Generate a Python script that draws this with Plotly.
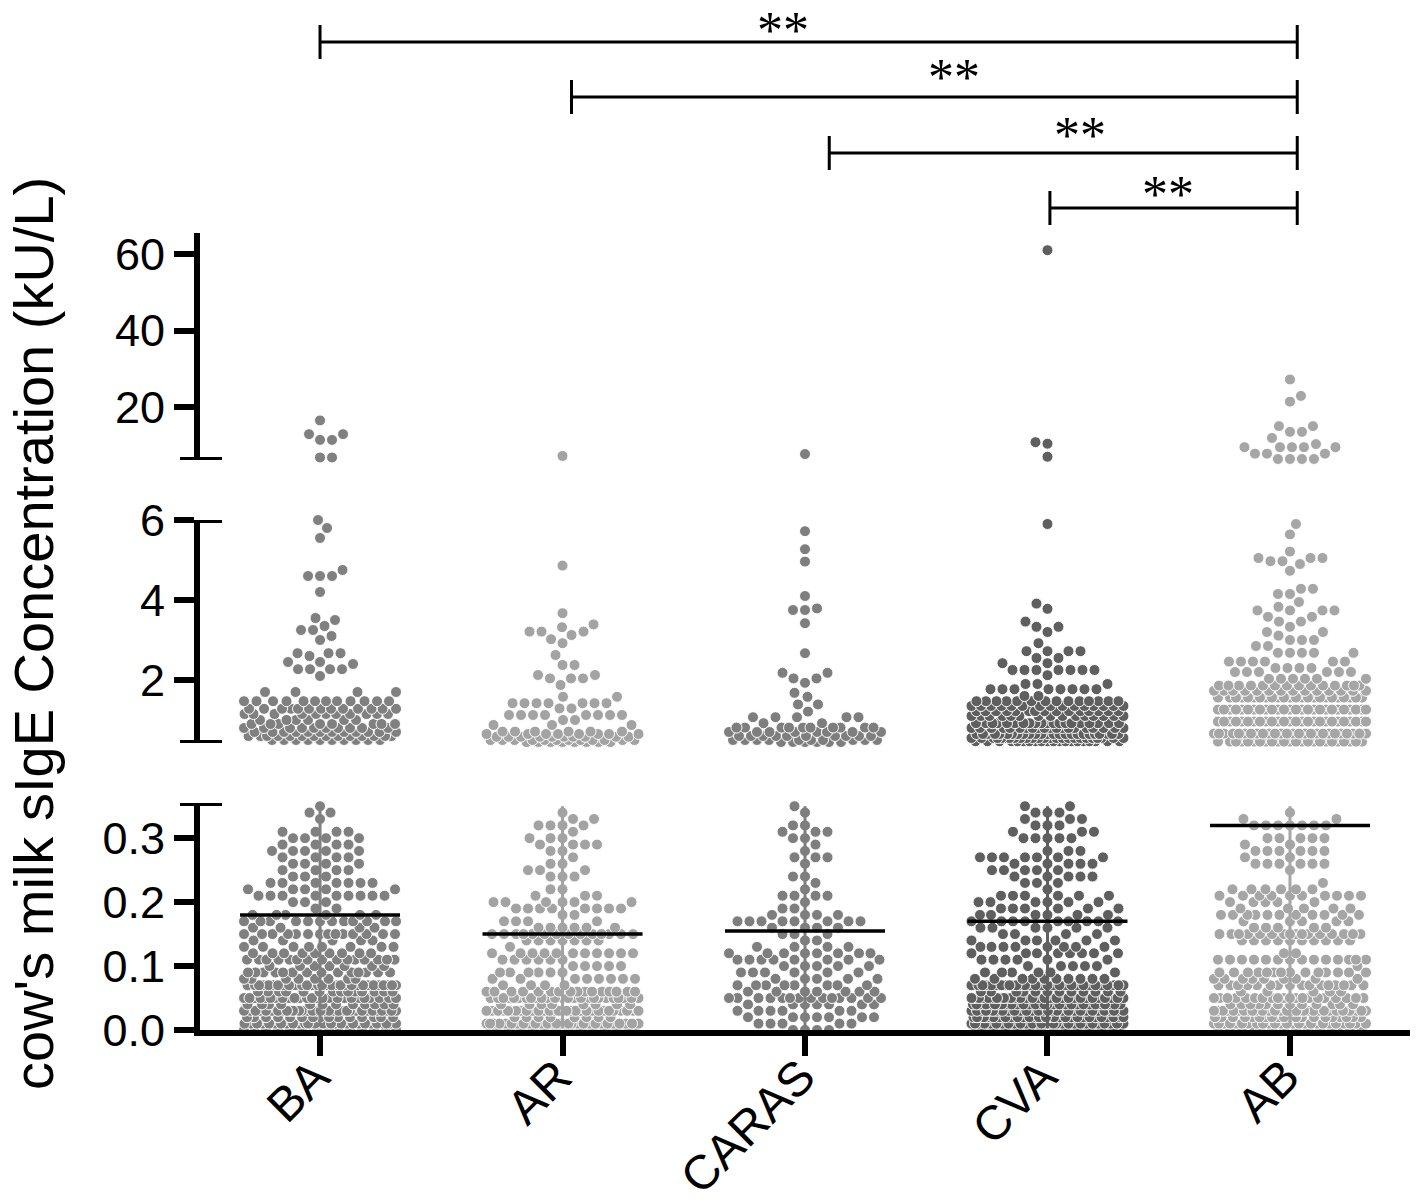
import numpy as np
import plotly.graph_objects as go

# ---------------- data ----------------
GROUPS = ["BA", "AR", "CARAS", "CVA", "AB"]
COLORS = ["#808080", "#a3a3a3", "#7e7e7e", "#5f5f5f", "#a6a6a6"]
MEDIANS = [0.18, 0.15, 0.155, 0.17, 0.32]

# lower panel: number of dots at each 0.01 level (0.00 ... 0.35)
LOW_LEVELS = [0.00, 0.01, 0.02, 0.03, 0.04, 0.05, 0.06, 0.07, 0.08, 0.09,
              0.10, 0.11, 0.12, 0.13, 0.14, 0.15, 0.16, 0.17, 0.18, 0.19,
              0.20, 0.21, 0.22, 0.23, 0.24, 0.25, 0.26, 0.27, 0.28, 0.29,
              0.30, 0.31, 0.32, 0.33, 0.34, 0.35]
BA_LOW = [30, 30, 15, 34, 12, 25, 14, 30, 8, 14, 7, 15, 9, 8, 5, 14, 4, 12, 6, 2,
          3, 9, 5, 7, 3, 4, 4, 4, 5, 4, 4, 4, 0, 1, 2, 1]
AR_LOW = [25, 30, 8, 30, 8, 25, 16, 4, 8, 6, 5, 6, 11, 1, 7, 14, 6, 4, 2, 8,
          6, 3, 2, 0, 3, 3, 2, 1, 2, 4, 3, 1, 4, 2, 1, 0]
CARAS_LOW = [4, 5, 7, 6, 7, 14, 7, 8, 5, 6, 5, 8, 8, 4, 2, 3, 4, 8, 4, 2,
             1, 4, 1, 1, 2, 0, 1, 3, 1, 1, 2, 3, 2, 0, 1, 1]
CVA_LOW = [25, 30, 30, 30, 30, 30, 12, 30, 10, 6, 5, 6, 8, 8, 6, 4, 6, 9, 6, 6,
           6, 6, 1, 3, 5, 5, 5, 7, 3, 0, 5, 3, 3, 3, 3, 2]
AB_LOW = [20, 25, 20, 30, 12, 20, 5, 16, 9, 14, 1, 14, 2, 0, 10, 16, 5, 5, 11, 5,
          5, 10, 6, 1, 0, 1, 6, 2, 6, 2, 5, 0, 7, 2, 1, 0]

# middle panel (0.4 - 6 kU/L): values and how many dots sit at each
BA_MID_V = [0.5, 0.6, 0.7, 0.8, 0.9, 1.0, 1.15, 1.28, 1.47, 1.7, 2.1, 2.27, 2.4, 2.45,
            2.6, 2.67, 3.0, 3.1, 3.25, 3.35, 3.5, 3.55, 4.2, 4.6, 4.75, 5.55, 5.8, 6.0]
BA_MID_N = [10, 14, 12, 10, 8, 6, 11, 13, 12, 4, 1, 4, 1, 2,
            1, 3, 1, 1, 2, 1, 1, 1, 1, 3, 1, 1, 1, 1]
AR_MID_V = [0.45, 0.5, 0.58, 0.65, 0.71, 0.875, 1.0, 1.125, 1.29, 1.42, 1.58, 1.875,
            2.04, 2.125, 2.375, 2.625, 2.92, 3.02, 3.125, 3.21, 3.32, 3.39, 3.67, 4.86]
AR_MID_N = [8, 12, 10, 8, 6, 3, 2, 8, 2, 7, 2, 1,
            3, 2, 2, 1, 1, 1, 1, 3, 1, 1, 1, 1]
CARAS_MID_V = [0.45, 0.5, 0.6, 0.7, 0.81, 0.92, 1.07, 1.21, 1.39, 1.58, 1.68, 1.93,
               2.04, 2.18, 2.67, 3.42, 3.75, 3.79, 4.1, 4.96, 5.27, 5.72]
CARAS_MID_N = [6, 10, 10, 8, 10, 2, 5, 1, 2, 1, 1, 1,
               2, 2, 1, 1, 2, 1, 1, 1, 1, 1]
CVA_MID_V = [0.47, 0.55, 0.65, 0.8, 0.92, 1.1, 1.22, 1.35, 1.47, 1.6, 1.77, 1.9,
             2.12, 2.25, 2.42, 2.55, 2.72, 2.92, 3.2, 3.33, 3.46, 3.78, 3.91, 5.9]
CVA_MID_N = [20, 25, 25, 20, 20, 15, 15, 15, 14, 2, 8, 3,
             1, 7, 2, 2, 4, 1, 1, 2, 1, 1, 1, 1]
AB_MID_V = [0.46, 0.66, 0.96, 1.26, 1.56, 1.73, 1.86, 2.03, 2.2, 2.3, 2.46, 2.68,
            2.85, 3.0, 3.11, 3.2, 3.33, 3.46, 3.58, 3.74, 3.83, 3.95, 4.15, 4.28,
            4.73, 4.9, 4.97, 5.05, 5.21, 5.64, 5.9]
AB_MID_N = [24, 26, 26, 26, 24, 14, 14, 6, 6, 4, 6, 5,
            2, 3, 1, 2, 1, 2, 2, 4, 1, 1, 2, 2,
            1, 1, 2, 3, 1, 1, 1]

# upper panel (6 - 65 kU/L)
BA_TOP_V = [6.8, 11.4, 12.9, 16.5]
BA_TOP_N = [2, 2, 2, 1]
AR_TOP_V = [7.2]
AR_TOP_N = [1]
CARAS_TOP_V = [7.7]
CARAS_TOP_N = [1]
CVA_TOP_V = [7.0, 10.4, 10.8, 61.0]
CVA_TOP_N = [1, 1, 1, 1]
AB_TOP_V = [6.4, 7.8, 9.5, 10.3, 11.9, 13.5, 15.0, 21.4, 22.9, 27.2]
AB_TOP_N = [4, 3, 5, 1, 1, 2, 2, 1, 1, 1]

LOW_COUNTS = [BA_LOW, AR_LOW, CARAS_LOW, CVA_LOW, AB_LOW]
MID_VALS = [BA_MID_V, AR_MID_V, CARAS_MID_V, CVA_MID_V, AB_MID_V]
MID_COUNTS = [BA_MID_N, AR_MID_N, CARAS_MID_N, CVA_MID_N, AB_MID_N]
TOP_VALS = [BA_TOP_V, AR_TOP_V, CARAS_TOP_V, CVA_TOP_V, AB_TOP_V]
TOP_COUNTS = [BA_TOP_N, AR_TOP_N, CARAS_TOP_N, CVA_TOP_N, AB_TOP_N]

Y_TICKS_LOW = [0.0, 0.1, 0.2, 0.3]
Y_TICKS_MID = [2, 4, 6]
Y_TICKS_TOP = [20, 40, 60]

# significance brackets: (left group position, right group position, label)
BRACKETS = [(0.0, 4.03, "**"), (1.037, 4.03, "**"), (2.10, 4.03, "**"), (3.01, 4.03, "**")]

# ---------------- geometry ----------------
W, H = 1418, 1203
ML, MR, MT, MB = 200, 8, 10, 173
PW = W - ML - MR
PH = H - MT - MB
XR = [-0.495, 4.495]
XPPU = PW / (XR[1] - XR[0])


def py2paper(py):
    return (H - MB - py) / PH


SEGS = {
    "y": dict(dom=[py2paper(1030), py2paper(803)], rng=[0.0, 0.355]),
    "y2": dict(dom=[py2paper(743), py2paper(520)], rng=[0.425, 6.0]),
    "y3": dict(dom=[py2paper(460), py2paper(233)], rng=[6.14, 65.5]),
}
for s in SEGS.values():
    s["ppu"] = (s["dom"][1] - s["dom"][0]) * PH / (s["rng"][1] - s["rng"][0])


def expand(vals, counts):
    out = []
    for v, n in zip(vals, counts):
        out += [v] * n
    return out


def swarm(values, ppu, dmin=12.0, half=76.0):
    v = np.asarray(values, float)
    if len(v) == 0:
        return v
    ypx = v * ppu
    order = np.argsort(ypx, kind="stable")
    grid = np.arange(0.5, half + 1e-9, 0.5)
    base = np.concatenate([[0.0], np.column_stack([-grid, grid]).ravel()])
    PX = np.zeros(len(v))
    PY = np.zeros(len(v))
    out = np.zeros(len(v))
    for k, i in enumerate(order):
        y = ypx[i]
        cand = base if k % 2 == 0 else -base
        x = 0.0
        if k > 0:
            px, pyy = PX[:k], PY[:k]
            m = np.abs(pyy - y) < dmin
            if m.any():
                dx = cand[:, None] - px[m][None, :]
                dy = (y - pyy[m])[None, :]
                dist = np.sqrt(dx ** 2 + dy ** 2).min(axis=1)
                ok = np.nonzero(dist >= dmin - 1e-6)[0]
                x = cand[ok[0]] if len(ok) else cand[int(np.argmax(dist))]
        out[i] = x
        PX[k] = x
        PY[k] = y
    return out


fig = go.Figure()

for gi, g in enumerate(GROUPS):
    col = COLORS[gi]
    parts = [
        ("y", expand(LOW_LEVELS, LOW_COUNTS[gi])),
        ("y2", expand(MID_VALS[gi], MID_COUNTS[gi])),
        ("y3", expand(TOP_VALS[gi], TOP_COUNTS[gi])),
    ]
    for ax, vals in parts:
        offs = swarm(vals, SEGS[ax]["ppu"])
        fig.add_trace(go.Scatter(
            x=gi + offs / XPPU, y=vals, mode="markers", yaxis=ax, xaxis="x",
            marker=dict(size=11, color=col, line=dict(width=1, color="white")),
            cliponaxis=False, showlegend=False, hoverinfo="skip"))
    # spread line
    fig.add_trace(go.Scatter(x=[gi, gi], y=[0.005, 0.35], mode="lines", yaxis="y",
                             line=dict(color=col, width=3), showlegend=False,
                             hoverinfo="skip", cliponaxis=False))
    # median line
    hw = 80 / XPPU
    fig.add_trace(go.Scatter(x=[gi - hw, gi + hw], y=[MEDIANS[gi]] * 2, mode="lines",
                             yaxis="y", line=dict(color="black", width=3.5),
                             showlegend=False, hoverinfo="skip", cliponaxis=False))

FONT = "Liberation Sans, Arial, sans-serif"
axis_common = dict(showgrid=False, zeroline=False, showline=True, linecolor="black",
                   linewidth=6, ticks="outside", ticklen=20, tickwidth=6, tickcolor="black",
                   tickfont=dict(family=FONT, size=45, color="black"), anchor="x",
                   automargin=False)

fig.update_layout(
    template="none",
    width=W, height=H, margin=dict(l=ML, r=MR, t=MT, b=MB, autoexpand=False),
    paper_bgcolor="white", plot_bgcolor="white", showlegend=False,
    font=dict(family=FONT, color="black"),
    xaxis=dict(range=XR, domain=[0, 1], showgrid=False, zeroline=False, showline=True,
               linecolor="black", linewidth=6, ticks="outside", ticklen=20, tickwidth=6,
               tickcolor="black", tickvals=list(range(len(GROUPS))), ticktext=GROUPS,
               showticklabels=False, anchor="y", automargin=False),
    yaxis=dict(domain=SEGS["y"]["dom"], range=SEGS["y"]["rng"], tickvals=Y_TICKS_LOW,
               ticktext=["%.1f" % t for t in Y_TICKS_LOW], **axis_common),
    yaxis2=dict(domain=SEGS["y2"]["dom"], range=SEGS["y2"]["rng"], tickvals=Y_TICKS_MID,
                **axis_common),
    yaxis3=dict(domain=SEGS["y3"]["dom"], range=SEGS["y3"]["rng"], tickvals=Y_TICKS_TOP,
                **axis_common),
)

shapes = []
# end caps of the broken axis segments
cx0, cx1 = -20 / PW, 22 / PW
for ax, val in [("y", 0.355), ("y2", 0.425), ("y2", 6.0), ("y3", 6.14)]:
    shapes.append(dict(type="line", xref="paper", yref=ax, x0=cx0, x1=cx1, y0=val, y1=val,
                       line=dict(color="black", width=6)))

annotations = []
# category labels, rotated
for gi, g in enumerate(GROUPS):
    annotations.append(dict(x=gi + 21 / XPPU, y=py2paper(1048), xref="x", yref="paper",
                            text=g, textangle=-45, showarrow=False, xanchor="right",
                            yanchor="top", borderpad=0,
                            font=dict(family=FONT, size=48, color="black")))

# significance brackets
BR_PY = [42, 97, 153, 208]
STAR_BOX = [(1.91, 30), (2.614, 78), (3.134, 135), (3.497, 194)]
for (xa, xb, lab), py, (sx, spy) in zip(BRACKETS, BR_PY, STAR_BOX):
    y = py2paper(py)
    shapes.append(dict(type="line", xref="x", yref="paper", x0=xa, x1=xb, y0=y, y1=y,
                       line=dict(color="black", width=3)))
    for xx in (xa, xb):
        shapes.append(dict(type="line", xref="x", yref="paper", x0=xx, x1=xx,
                           y0=py2paper(py - 17), y1=py2paper(py + 17),
                           line=dict(color="black", width=3)))
    annotations.append(dict(x=sx, y=py2paper(spy), xref="x", yref="paper", text=lab,
                            showarrow=False, xanchor="center", yanchor="middle",
                            font=dict(family="Liberation Serif, serif", size=52, color="black")))

annotations.append(dict(x=(33 - ML) / PW, y=py2paper(634), xref="paper", yref="paper",
                        text="cow's milk sIgE Concentration (kU/L)", textangle=-90,
                        showarrow=False, xanchor="center", yanchor="middle",
                        font=dict(family=FONT, size=56, color="black")))

fig.update_layout(shapes=shapes, annotations=annotations)
fig.write_html("out.html", config={"displayModeBar": False},
               post_script="document.body.style.margin='0px';")
